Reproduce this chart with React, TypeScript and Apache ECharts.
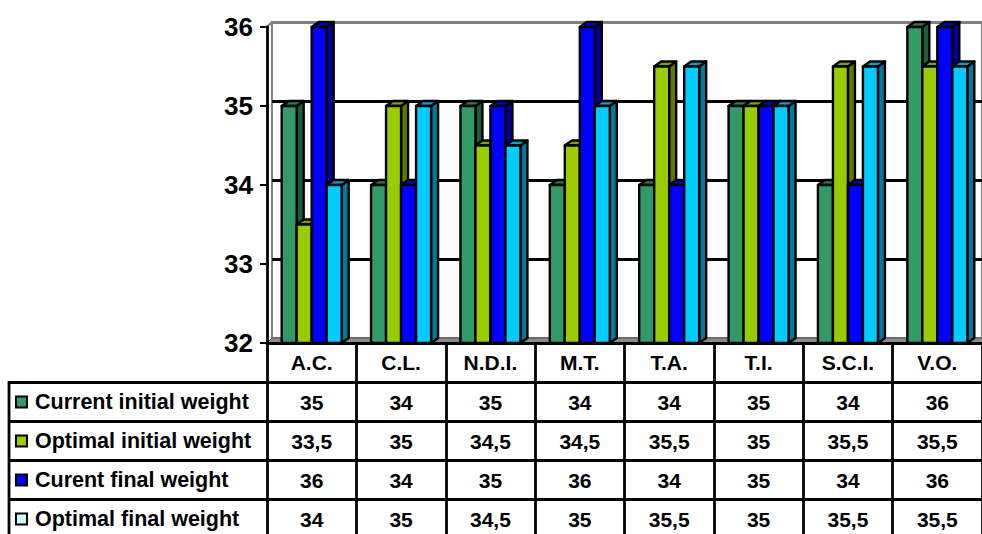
import React, { useEffect, useRef } from "react";
import * as echarts from "echarts";

const categories = ["A.C.", "C.L.", "N.D.I.", "M.T.", "T.A.", "T.I.", "S.C.I.", "V.O."];
const currentInitial = [35, 34, 35, 34, 34, 35, 34, 36];
const optimalInitial = [33.5, 35, 34.5, 34.5, 35.5, 35, 35.5, 35.5];
const currentFinal = [36, 34, 35, 36, 34, 35, 34, 36];
const optimalFinal = [34, 35, 34.5, 35, 35.5, 35, 35.5, 35.5];
const seriesNames = [
  "Current initial weight",
  "Optimal initial weight",
  "Curent final weight",
  "Optimal final weight",
];
const Y_MIN = 32;
const Y_MAX = 36;
const Y_STEP = 1;

const allSeries = [currentInitial, optimalInitial, currentFinal, optimalFinal];
const frontColors = ["#339966", "#99CC00", "#0000FF", "#00CCFF"];
const sideColors = ["#1f5c3d", "#5c7a00", "#000099", "#007a99"];
const topColors = ["#297a52", "#7aa300", "#0000cc", "#00a3cc"];
const keyColors = ["#339966", "#99CC00", "#0000FF", "#CCFFFF"];

const FONT = '"Liberation Sans", Arial, sans-serif';

// plot layout
const PLOT_LEFT = 267;
const PLOT_TOP = 27;
const PLOT_W = 720;
const PLOT_H = 316;
const DEPTH_X = 5;
const DEPTH_Y = 5;
const BAR_W = 15;
const BAR_DX = 7;
const BAR_DY = 5;

// data table layout
const TABLE_LEFT = 9;
const ROW0 = 382.5;
const ROW_H = 39;
const LINE_W = 2.8;

const fmt = (v: number) => String(v).replace(".", ",");

function barRenderer(sIdx: number) {
  return (params: any, api: any) => {
    const ci = api.value(0);
    const v = api.value(1);
    const top = api.coord([ci, v]);
    const base = api.coord([ci, Y_MIN]);
    const x = top[0] - 2 * BAR_W + sIdx * BAR_W;
    const ty = top[1];
    const by = base[1];
    const stroke = { stroke: "#000", lineWidth: 2.4, lineJoin: "round" };
    return {
      type: "group",
      children: [
        {
          type: "polygon",
          shape: {
            points: [
              [x + BAR_W, ty],
              [x + BAR_W + BAR_DX, ty - BAR_DY],
              [x + BAR_W + BAR_DX, by - BAR_DY],
              [x + BAR_W, by],
            ],
          },
          style: { fill: sideColors[sIdx], ...stroke },
        },
        {
          type: "polygon",
          shape: {
            points: [
              [x, ty],
              [x + BAR_DX, ty - BAR_DY],
              [x + BAR_W + BAR_DX, ty - BAR_DY],
              [x + BAR_W, ty],
            ],
          },
          style: { fill: topColors[sIdx], ...stroke },
        },
        {
          type: "rect",
          shape: { x, y: ty, width: BAR_W, height: by - ty },
          style: { fill: frontColors[sIdx], ...stroke },
        },
      ],
    };
  };
}

function tableRenderer(row: number) {
  return (params: any, api: any) => {
    const ci = api.value(0);
    const v = api.value(1);
    const p = api.coord([ci, Y_MIN]);
    return {
      type: "text",
      x: p[0],
      y: ROW0 + ROW_H * row + ROW_H / 2,
      style: {
        text: fmt(v),
        fill: "#000",
        fontFamily: FONT,
        fontWeight: "bold",
        fontSize: 21,
        align: "center",
        verticalAlign: "middle",
      },
    };
  };
}

export default function App() {
  const ref = useRef<HTMLDivElement>(null);

  useEffect(() => {
    document.body.style.margin = "0";
    if (!ref.current) return;
    const chart = echarts.init(ref.current, null, { renderer: "svg" });

    const barSeries = allSeries.map((vals, s) => ({
      type: "custom",
      name: seriesNames[s],
      xAxisIndex: 0,
      yAxisIndex: 0,
      renderItem: barRenderer(s),
      clip: false,
      z: 3,
      data: vals.map((v, i) => [i, v]),
    }));

    const tableSeries = allSeries.map((vals, s) => ({
      type: "custom",
      name: "table-" + s,
      xAxisIndex: 0,
      yAxisIndex: 0,
      renderItem: tableRenderer(s),
      clip: false,
      z: 5,
      data: vals.map((v, i) => [i, v]),
    }));

    const graphics: any[] = [];
    // floor
    graphics.push({
      type: "polygon",
      z: 1,
      shape: {
        points: [
          [PLOT_LEFT, PLOT_TOP + PLOT_H],
          [PLOT_LEFT + DEPTH_X, PLOT_TOP + PLOT_H - DEPTH_Y],
          [PLOT_LEFT + PLOT_W + DEPTH_X, PLOT_TOP + PLOT_H - DEPTH_Y],
          [PLOT_LEFT + PLOT_W, PLOT_TOP + PLOT_H],
        ],
      },
      style: { fill: "#8c8c8c", stroke: "#555", lineWidth: 1 },
    });
    // left wall top edge
    graphics.push({
      type: "line",
      z: 1,
      shape: {
        x1: PLOT_LEFT,
        y1: PLOT_TOP,
        x2: PLOT_LEFT + DEPTH_X,
        y2: PLOT_TOP - DEPTH_Y,
      },
      style: { stroke: "#808080", lineWidth: 2 },
    });
    // data table rules
    for (let r = 0; r <= 4; r++) {
      graphics.push({
        type: "line",
        z: 4,
        shape: { x1: TABLE_LEFT, y1: ROW0 + r * ROW_H, x2: 990, y2: ROW0 + r * ROW_H },
        style: { stroke: "#000", lineWidth: LINE_W },
      });
    }
    graphics.push({
      type: "line",
      z: 4,
      shape: { x1: TABLE_LEFT, y1: ROW0 - 1.4, x2: TABLE_LEFT, y2: 545 },
      style: { stroke: "#000", lineWidth: LINE_W },
    });
    // legend keys and row labels
    seriesNames.forEach((name, r) => {
      const cy = ROW0 + r * ROW_H + ROW_H / 2;
      graphics.push({
        type: "rect",
        z: 4,
        shape: { x: 16, y: cy - 5.5, width: 11, height: 11 },
        style: { fill: keyColors[r], stroke: "#000", lineWidth: 2 },
      });
      graphics.push({
        type: "text",
        z: 4,
        x: 35,
        y: cy,
        style: {
          text: name,
          fill: "#000",
          fontFamily: FONT,
          fontWeight: "bold",
          fontSize: 21.5,
          align: "left",
          verticalAlign: "middle",
        },
      });
    });

    chart.setOption({
      animation: false,
      backgroundColor: "#fff",
      grid: [
        { left: PLOT_LEFT, top: PLOT_TOP, width: PLOT_W, height: PLOT_H, containLabel: false },
        {
          left: PLOT_LEFT + DEPTH_X,
          top: PLOT_TOP - DEPTH_Y,
          width: PLOT_W,
          height: PLOT_H,
          show: true,
          borderColor: "#808080",
          borderWidth: 2,
          backgroundColor: "transparent",
          z: 0,
        },
      ],
      xAxis: [
        {
          type: "category",
          gridIndex: 0,
          data: categories,
          boundaryGap: true,
          axisLine: { show: true, lineStyle: { color: "#000", width: LINE_W } },
          axisTick: {
            show: true,
            length: 210,
            inside: false,
            lineStyle: { color: "#000", width: LINE_W },
          },
          axisLabel: {
            show: true,
            margin: 19.5,
            verticalAlign: "middle",
            color: "#000",
            fontFamily: FONT,
            fontWeight: "bold",
            fontSize: 21,
          },
          splitLine: { show: false },
          z: 4,
        },
        {
          type: "category",
          gridIndex: 1,
          data: categories,
          show: false,
        },
      ],
      yAxis: [
        {
          type: "value",
          gridIndex: 0,
          min: Y_MIN,
          max: Y_MAX,
          interval: Y_STEP,
          axisLine: { show: true, lineStyle: { color: "#000", width: LINE_W } },
          axisTick: { show: true, length: 7, lineStyle: { color: "#000", width: 2 } },
          axisLabel: {
            margin: 14,
            color: "#000",
            fontFamily: FONT,
            fontWeight: "bold",
            fontSize: 26,
          },
          splitLine: { show: false },
          z: 4,
        },
        {
          type: "value",
          gridIndex: 1,
          min: Y_MIN,
          max: Y_MAX,
          interval: Y_STEP,
          axisLine: { show: false },
          axisTick: { show: false },
          axisLabel: { show: false },
          splitLine: {
            show: true,
            lineStyle: {
              color: ["#808080", "#000", "#000", "#000", "#808080"],
              width: 2.8,
            },
          },
          z: 0,
        },
      ],
      graphic: graphics,
      series: [...barSeries, ...tableSeries],
    });

    return () => chart.dispose();
  }, []);

  return <div ref={ref} style={{ width: 982, height: 534 }} />;
}
